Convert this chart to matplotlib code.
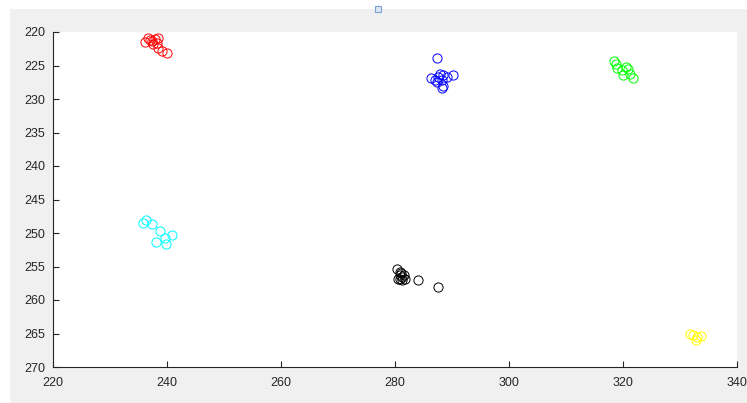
import matplotlib
matplotlib.use('Agg')
import matplotlib.pyplot as plt
from matplotlib.patches import Rectangle

plt.rcParams['font.family'] = ['Liberation Sans', 'DejaVu Sans']

# point clusters
red_x = [236.1, 236.7, 237.9, 238.5, 237.3, 237.6, 238.5, 239.1, 240.0, 237.0, 238.2]
red_y = [221.5, 220.9, 221.0, 220.9, 221.4, 221.8, 222.4, 222.9, 223.2, 221.2, 221.7]
blue_x = [287.4, 286.4, 287.0, 287.9, 288.5, 287.6, 289.1, 290.1, 288.3, 287.3, 288.2, 288.4]
blue_y = [223.9, 226.9, 227.2, 226.2, 226.4, 226.7, 226.7, 226.4, 228.4, 227.4, 227.2, 228.0]
green_x = [318.4, 318.8, 318.9, 319.8, 320.6, 320.9, 320.0, 321.2, 321.8]
green_y = [224.4, 224.8, 225.4, 225.7, 225.2, 225.5, 226.4, 226.2, 226.9]
cyan_x = [235.8, 236.3, 237.3, 238.8, 240.8, 239.6, 238.1, 239.8]
cyan_y = [248.5, 248.1, 248.7, 249.7, 250.3, 250.8, 251.4, 251.7]
black_x = [280.3, 280.8, 281.0, 280.6, 281.2, 281.8, 284.0, 287.5, 280.9, 281.3, 281.5, 280.8]
black_y = [255.3, 255.8, 256.0, 256.8, 257.0, 256.8, 257.0, 258.0, 256.2, 256.5, 256.2, 256.9]
yellow_x = [331.8, 332.2, 332.9, 333.6, 332.8]
yellow_y = [265.0, 265.2, 265.5, 265.3, 265.9]

groups = [
    (red_x, red_y, '#ff0000'),
    (blue_x, blue_y, '#0000ff'),
    (green_x, green_y, '#00ff00'),
    (cyan_x, cyan_y, '#00ffff'),
    (black_x, black_y, '#000000'),
    (yellow_x, yellow_y, '#ffff00'),
]

fig = plt.figure(figsize=(7.47, 4.03), dpi=100)
fig.patch.set_facecolor('white')
# gray figure panel like the MATLAB window
fig.patches.append(Rectangle((10 / 747, 0), 1, 394 / 403, transform=fig.transFigure,
                             facecolor='#f0f0f0', edgecolor='none', zorder=0))
fig.patches.append(Rectangle((375 / 747, 391 / 403), 6 / 747, 6 / 403, transform=fig.transFigure,
                             facecolor='#dce6f4', edgecolor='#7aa0d4', linewidth=0.8, zorder=1))

ax = fig.add_axes([53 / 747, 36 / 403, 684 / 747, 335 / 403])
ax.set_zorder(3)
ax.set_facecolor('white')

for xs, ys, c in groups:
    ax.plot(xs, ys, 'o', markerfacecolor='none', markeredgecolor=c,
            markersize=6.6, markeredgewidth=0.7, linestyle='none')

ax.set_xlim(220, 340)
ax.set_ylim(270, 220)
ax.set_xticks(range(220, 341, 20))
ax.set_yticks(range(220, 271, 5))

for side in ['top', 'right']:
    ax.spines[side].set_visible(False)
for side in ['left', 'bottom']:
    ax.spines[side].set_color('#262626')
    ax.spines[side].set_linewidth(0.8)

ax.tick_params(direction='in', length=4, width=0.8, color='#262626',
               labelcolor='#262626', labelsize=9)
ax.tick_params(axis='x', pad=7.5)
ax.tick_params(axis='y', pad=5.5)

fig.savefig('out.png', dpi=100)
